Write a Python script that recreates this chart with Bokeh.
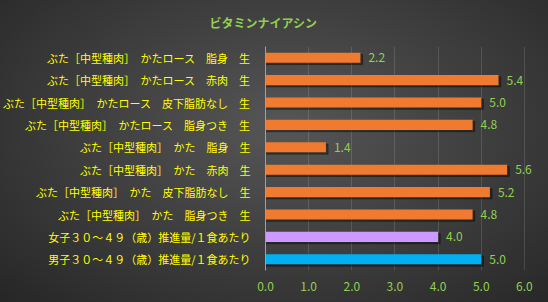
from bokeh.plotting import figure
from bokeh.models import FactorRange, Range1d, ColumnDataSource, LabelSet, FixedTicker, NumeralTickFormatter
from bokeh.core.properties import value
from bokeh.transform import dodge
from bokeh.embed import file_html
from bokeh.resources import INLINE

title_text = "ビタミンナイアシン"
categories = [
    "ぶた［中型種肉］　かたロース　脂身　生",
    "ぶた［中型種肉］　かたロース　赤肉　生",
    "ぶた［中型種肉］　かたロース　皮下脂肪なし　生",
    "ぶた［中型種肉］　かたロース　脂身つき　生",
    "ぶた［中型種肉］　かた　脂身　生",
    "ぶた［中型種肉］　かた　赤肉　生",
    "ぶた［中型種肉］　かた　皮下脂肪なし　生",
    "ぶた［中型種肉］　かた　脂身つき　生",
    "女子３０～４９（歳）推進量/１食あたり",
    "男子３０～４９（歳）推進量/１食あたり",
]
values = [2.2, 5.4, 5.0, 4.8, 1.4, 5.6, 5.2, 4.8, 4.0, 5.0]
bar_colors = ["#F07A30"] * 8 + ["#CC99FF", "#00B0F0"]
x_ticks = [0, 1, 2, 3, 4, 5, 6]

src = ColumnDataSource(dict(
    cat=categories,
    val=values,
    shadow=[v + 0.05 for v in values],
    color=bar_colors,
    label=[f"{v:.1f}" for v in values],
))

p = figure(
    width=548, height=302,
    y_range=FactorRange(factors=list(reversed(categories))),
    x_range=Range1d(0, 6.35),
    output_backend="svg", toolbar_location=None,
    min_border_left=8, min_border_right=9, min_border_top=45, min_border_bottom=32,
)
p.styles = {"background": "radial-gradient(ellipse at 52% 42%, #565656 0%, #3c3c3c 55%, #262626 100%)"}
p.border_fill_alpha = 0
p.background_fill_alpha = 0
p.outline_line_color = None

p.title.text = title_text
p.title.text_color = "#92D050"
p.title.text_font = "Noto Sans CJK JP"
p.title.text_font_size = "12px"
p.title.text_font_style = "bold"
p.title.align = "left"
p.title.vertical_align = "top"
p.title.offset = -56
p.title.standoff = 27

p.hbar(y=dodge("cat", -0.08, range=p.y_range), left=0, right="shadow", height=0.45,
       source=src, color="#000000", alpha=0.35)
p.hbar(y="cat", left=0, right="val", height=0.45, source=src,
       fill_color="color", line_color=None)

labels = LabelSet(x="val", y="cat", text="label", source=src, x_offset=8,
                  text_baseline="middle", text_color="#92D050",
                  text_font=value("Noto Sans CJK JP"), text_font_size="12px")
p.add_layout(labels)

p.xaxis.ticker = FixedTicker(ticks=x_ticks)
p.xaxis.formatter = NumeralTickFormatter(format="0.0")
p.xaxis.axis_line_color = None
p.xaxis.major_tick_line_color = None
p.xaxis.minor_tick_line_color = None
p.xaxis.major_label_text_color = "#92D050"
p.xaxis.major_label_text_font = "Noto Sans CJK JP"
p.xaxis.major_label_text_font_size = "12px"
p.xaxis.major_label_standoff = 5

p.yaxis.axis_line_color = "#A0A0A0"
p.yaxis.major_tick_line_color = None
p.yaxis.minor_tick_line_color = None
p.yaxis.major_label_text_color = "#FFFF00"
p.yaxis.major_label_text_font = "Noto Sans CJK JP"
p.yaxis.major_label_text_font_size = "11px"
p.yaxis.major_label_standoff = 9

p.xgrid.grid_line_color = "#FFFFFF"
p.xgrid.grid_line_alpha = 0.13
p.ygrid.grid_line_color = None

open("out.html", "w").write(file_html(p, INLINE))
